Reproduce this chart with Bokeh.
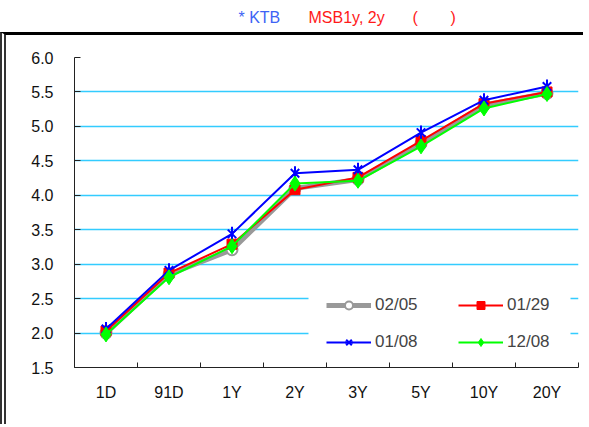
import math
from bokeh.plotting import figure
from bokeh.layouts import column
from bokeh.models import (FixedTicker, Legend, LegendItem, Label, BoxAnnotation,
                          Range1d, PrintfTickFormatter, ColumnDataSource)
from bokeh.embed import file_html
from bokeh.resources import INLINE

categories = ["1D", "91D", "1Y", "2Y", "3Y", "5Y", "10Y", "20Y"]
s_0205 = [2.00, 2.85, 3.21, 4.10, 4.23, 4.75, 5.31, 5.48]
s_0129 = [2.03, 2.87, 3.29, 4.08, 4.26, 4.79, 5.33, 5.50]
s_0108 = [2.06, 2.91, 3.44, 4.32, 4.37, 4.91, 5.38, 5.58]
s_1208 = [1.98, 2.81, 3.26, 4.17, 4.21, 4.71, 5.26, 5.47]
y_ticks = [1.5, 2.0, 2.5, 3.0, 3.5, 4.0, 4.5, 5.0, 5.5, 6.0]
title_parts = ["* KTB", "MSB1y, 2y", "(", ")"]

FONT = "Liberation Sans"
xs = list(range(1, len(categories) + 1))
LEFT = 68  # frame left inside main chart (the column aligns both frames)

# ---- title strip ----
t = figure(frame_width=589 - LEFT, frame_height=32, output_backend="svg", toolbar_location=None,
           x_range=Range1d(0, 1), y_range=Range1d(0, 1),
           min_border_left=0, min_border_right=0, min_border_top=0, min_border_bottom=0,
           x_axis_type=None, y_axis_type=None)
t.title.visible = False
t.outline_line_color = None
t.grid.visible = False
for txt, x, col in zip(title_parts, [238, 308, 412, 450],
                       ["#3d63f5", "#ff1a1a", "#ff1a1a", "#ff1a1a"]):
    t.add_layout(Label(x=x - LEFT, y=15, x_units="screen", y_units="screen", text=txt,
                       text_font=FONT, text_font_size="16px",
                       text_color=col, text_baseline="middle"))

# ---- main chart ----
p = figure(width=583, height=392, output_backend="svg", toolbar_location=None,
           x_range=Range1d(0.5, len(categories) + 0.5), y_range=Range1d(1.5, 6.0),
           min_border_left=LEFT, min_border_right=11, min_border_top=22, min_border_bottom=60)
p.styles = {"border-top": "3px solid #000000", "border-left": "6px double #333333"}
p.outline_line_color = None
p.xgrid.grid_line_color = None
p.ygrid.grid_line_color = "#33ccff"
p.ygrid.grid_line_width = 1.5

p.yaxis.ticker = FixedTicker(ticks=y_ticks)
p.yaxis.formatter = PrintfTickFormatter(format="%.1f")
p.yaxis.major_tick_in = 6
p.yaxis.major_tick_out = 0
p.yaxis.minor_tick_line_color = None
p.yaxis.major_label_standoff = 21

p.xaxis.ticker = FixedTicker(ticks=xs, minor_ticks=[x - 0.5 for x in xs] + [xs[-1] + 0.5])
p.xaxis.major_label_overrides = {x: c for x, c in zip(xs, categories)}
p.xaxis.major_tick_in = 0
p.xaxis.major_tick_out = 0
p.xaxis.minor_tick_in = 5
p.xaxis.minor_tick_out = 0
p.xaxis.minor_tick_line_color = "#222222"
p.xaxis.major_label_standoff = 16

for ax in (p.xaxis, p.yaxis):
    ax.axis_line_color = "#222222"
    ax.major_tick_line_color = "#222222"
    ax.major_label_text_font = FONT
    ax.major_label_text_font_size = "16px"
    ax.major_label_text_color = "#111111"

# background box behind legend
p.add_layout(BoxAnnotation(left=234, right=496, bottom=14, top=85,
                           left_units="screen", right_units="screen",
                           top_units="screen", bottom_units="screen",
                           fill_color="white", fill_alpha=1.0, line_color=None,
                           level="underlay"))

src = ColumnDataSource(dict(x=xs, a=s_0205, b=s_0129, c=s_0108, d=s_1208))

l1 = p.line("x", "a", source=src, line_color="#999999", line_width=5)
m1 = p.scatter("x", "a", source=src, marker="circle", size=11, fill_color="white",
               line_color="#999999", line_width=2)
l2 = p.line("x", "b", source=src, line_color="#ff0000", line_width=2)
m2 = p.scatter("x", "b", source=src, marker="square", size=10, fill_color="#ff0000",
               line_color="#ff0000")
l3 = p.line("x", "c", source=src, line_color="#0000ff", line_width=2)
m3a = p.scatter("x", "c", source=src, marker="x", size=12, line_color="#0000ff",
                line_width=2)
m3b = p.scatter("x", "c", source=src, marker="dash", size=14, angle=math.pi / 2,
                line_color="#0000ff", line_width=2)
l4 = p.line("x", "d", source=src, line_color="#00ff00", line_width=2)
m4 = p.scatter("x", "d", source=src, marker="diamond", size=15, fill_color="#00ff00",
               line_color="#00ff00")

legend = Legend(items=[LegendItem(label="02/05", renderers=[l1, m1]),
                       LegendItem(label="01/08", renderers=[l3, m3a, m3b]),
                       LegendItem(label="01/29", renderers=[l2, m2]),
                       LegendItem(label="12/08", renderers=[l4, m4])],
                ncols=2, location=(252, 15), glyph_width=45, glyph_height=20,
                label_height=20, label_standoff=4, spacing=17, label_width=66,
                padding=0, margin=0, border_line_alpha=0, background_fill_alpha=0,
                label_text_font=FONT, label_text_font_size="17px")
p.add_layout(legend, "center")

layout = column(t, p, spacing=0)
open("out.html", "w").write(file_html(layout, INLINE))
